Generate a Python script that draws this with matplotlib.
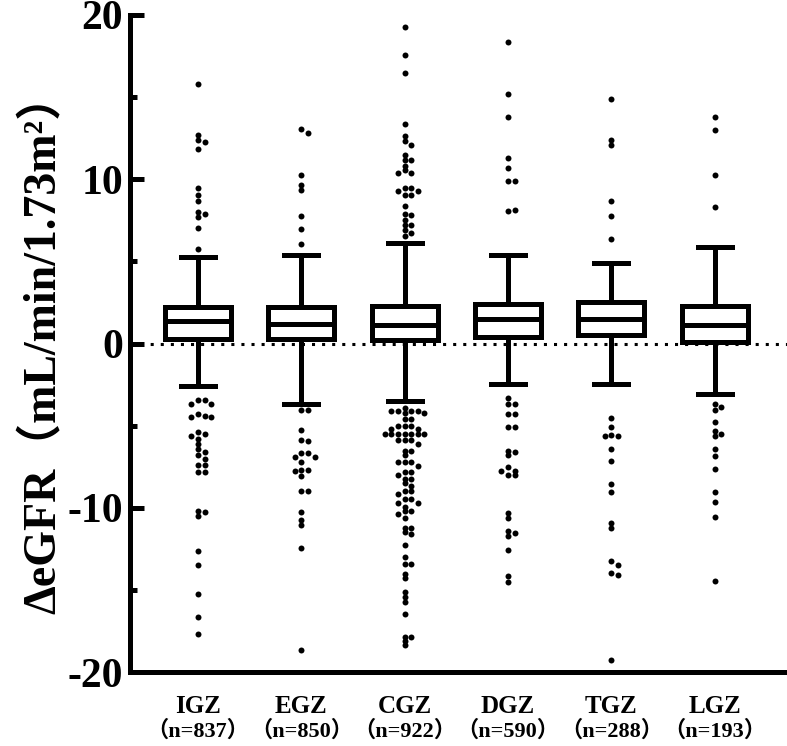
import matplotlib.pyplot as plt
import numpy as np
from matplotlib.ticker import MultipleLocator

plt.rcParams['axes.unicode_minus'] = False

groups = ['IGZ', 'EGZ', 'CGZ', 'DGZ', 'TGZ', 'LGZ']
counts = [837, 850, 922, 590, 288, 193]

# box summary: q1, median, q3, lower whisker, upper whisker
q1 = [0.3, 0.3, 0.2, 0.4, 0.5, 0.1]
med = [1.4, 1.2, 1.1, 1.5, 1.5, 1.1]
q3 = [2.2, 2.2, 2.3, 2.4, 2.5, 2.3]
whis_lo = [-2.6, -3.65, -3.5, -2.45, -2.45, -3.05]
whis_hi = [5.24, 5.36, 6.1, 5.36, 4.9, 5.9]

# outliers
igz_out = [15.77, 12.67, 12.40, 12.26, 11.85, 9.46, 9.07, 8.67, 8.0, 7.9, 7.73, 7.06, 5.77,
           -3.45, -3.45, -3.65, -3.65, -4.3, -4.4, -4.5, -4.5, -5.4, -5.5, -5.6, -5.8,
           -6.1, -6.4, -6.6, -6.8, -7.0, -7.37, -7.37, -7.84, -7.84, -10.17, -10.27,
           -10.47, -12.65, -13.46, -15.25, -16.67, -17.68]
egz_out = [13.03, 12.81, 10.27, 9.66, 9.36, 7.75, 6.96, 6.07,
           -4.04, -4.04, -5.26, -5.85, -5.95, -6.66, -6.66, -6.88, -6.88, -7.23, -7.69,
           -7.69, -7.78, -8.04, -8.95, -8.95, -10.27, -10.72, -11.04, -12.47, -18.65]
cgz_out = [19.27, 17.58, 16.46, 13.38, 12.61, 12.3, 12.1, 11.49, 11.2, 11.15, 10.8, 10.55,
           10.35, 10.35, 9.46, 9.46, 9.26, 9.26, 9.06, 9.06, 8.36, 7.86, 7.8, 7.5, 7.19,
           7.19, 6.9, 6.7, 6.55,
           -3.94, -4.08, -4.08, -4.08, -4.08, -4.2, -4.2, -4.59, -4.59, -5.0, -5.0, -5.0,
           -5.2, -5.2, -5.5, -5.5, -5.5, -5.5, -5.5, -5.5, -5.5, -5.9, -5.9, -5.9, -6.1,
           -6.52, -6.52, -6.8, -7.23, -7.23, -7.23, -7.45, -7.84, -7.84, -8.0, -8.24,
           -8.24, -8.5, -8.7, -8.95, -8.95, -9.15, -9.46, -9.46, -9.7, -9.7, -9.94,
           -10.2, -10.2, -10.4, -10.6, -11.23, -11.23, -11.5, -11.6, -12.24, -12.97,
           -13.4, -13.4, -14.03, -14.3, -15.15, -15.45, -15.75, -16.46, -17.84, -17.84,
           -18.1, -18.35]
dgz_out = [18.35, 15.16, 13.76, 11.29, 10.68, 9.87, 9.87, 8.06, 8.1,
           -3.31, -3.67, -3.67, -4.28, -4.28, -5.05, -5.1, -6.52, -6.6, -6.8, -7.49,
           -7.73, -7.73, -8.0, -8.0, -10.33, -10.6, -11.43, -11.55, -11.7, -12.56,
           -14.13, -14.5]
tgz_out = [14.86, 12.4, 12.1, 8.67, 7.75, 6.35,
           -4.55, -5.1, -5.55, -5.65, -5.65, -6.42, -7.13, -8.55, -9.06, -10.94, -11.23,
           -13.26, -13.45, -13.99, -14.1, -19.25]
lgz_out = [13.76, 12.97, 10.27, 8.28,
           -3.67, -3.86, -4.06, -4.75, -5.3, -5.5, -5.6, -6.42, -6.86, -7.63, -9.06,
           -9.66, -10.54, -14.43]
outliers = [igz_out, egz_out, cgz_out, dgz_out, tgz_out, lgz_out]

serif = ['Liberation Serif', 'DejaVu Serif']
mixed = ['Liberation Serif', 'Noto Sans CJK SC']

fig = plt.figure(figsize=(7.87, 7.46), dpi=100)
ax = fig.add_axes([0.165, 0.099, 0.835, 0.881])

pos = np.arange(len(groups))
ax.set_xlim(-0.66, 5.7)
ax.set_ylim(-20, 20)

ax.axhline(0, color='black', lw=2.2, ls=(0, (1, 2.3)), zorder=1)

stats = []
for i, g in enumerate(groups):
    stats.append(dict(label=g, q1=q1[i], med=med[i], q3=q3[i],
                      whislo=whis_lo[i], whishi=whis_hi[i], fliers=[]))
lw = 3.6
ax.bxp(stats, positions=pos, widths=0.64, capwidths=0.33, showfliers=False,
       patch_artist=True,
       boxprops=dict(facecolor='white', edgecolor='black', linewidth=lw),
       medianprops=dict(color='black', linewidth=lw),
       whiskerprops=dict(color='black', linewidth=lw),
       capprops=dict(color='black', linewidth=lw),
       zorder=2)

# simple beeswarm layout in pixel space
t0 = ax.transData.transform((0, 0))
t1 = ax.transData.transform((1, 1))
ppx = t1[0] - t0[0]
ppy = t1[1] - t0[1]
step = 6.6   # lateral step between columns (px)
gap = 4.0    # minimum centre distance (px)
for i, vals in enumerate(outliers):
    placed = []
    xs = []
    for v in vals:
        yp = v * ppy
        for k in [0, 1, -1, 2, -2, 3, -3, 4, -4, 5, -5]:
            xo = k * step
            if all((xo - px) ** 2 + (yp - py) ** 2 >= gap ** 2 for px, py in placed):
                break
        placed.append((xo, yp))
        xs.append(pos[i] + xo / ppx)
    ax.plot(xs, vals, 'o', color='black', markersize=4.3, markeredgewidth=0, zorder=3)

for s in ['top', 'right']:
    ax.spines[s].set_visible(False)
ax.spines['left'].set_linewidth(3.6)
ax.spines['bottom'].set_linewidth(3.6)

ax.yaxis.set_major_locator(MultipleLocator(10))
ax.yaxis.set_minor_locator(MultipleLocator(5))
ax.tick_params(axis='y', which='major', direction='in', length=10, width=3.6, pad=5)
ax.tick_params(axis='y', which='minor', direction='in', length=5, width=3.6)
for lab in ax.get_yticklabels():
    lab.set_family(serif)
    lab.set_fontweight('bold')
    lab.set_fontsize(30)

# category labels in two lines of different size
ax.set_xticks(pos)
ax.set_xticklabels([])
ax.tick_params(axis='x', length=0)
xt = ax.get_xaxis_transform()
for p, g, n in zip(pos, groups, counts):
    ax.text(p, -0.053, g, transform=xt, ha='center', va='center',
            family=serif, fontweight='bold', fontsize=18)
    ax.text(p, -0.09, f'（n={n}）', transform=xt, ha='center', va='center',
            family=mixed, fontweight='bold', fontsize=16)

ax.set_ylabel('ΔeGFR（mL/min/1.73m²）', family=mixed, fontweight='bold',
              fontsize=33, labelpad=2)

fig.savefig('out.png', dpi=100)
